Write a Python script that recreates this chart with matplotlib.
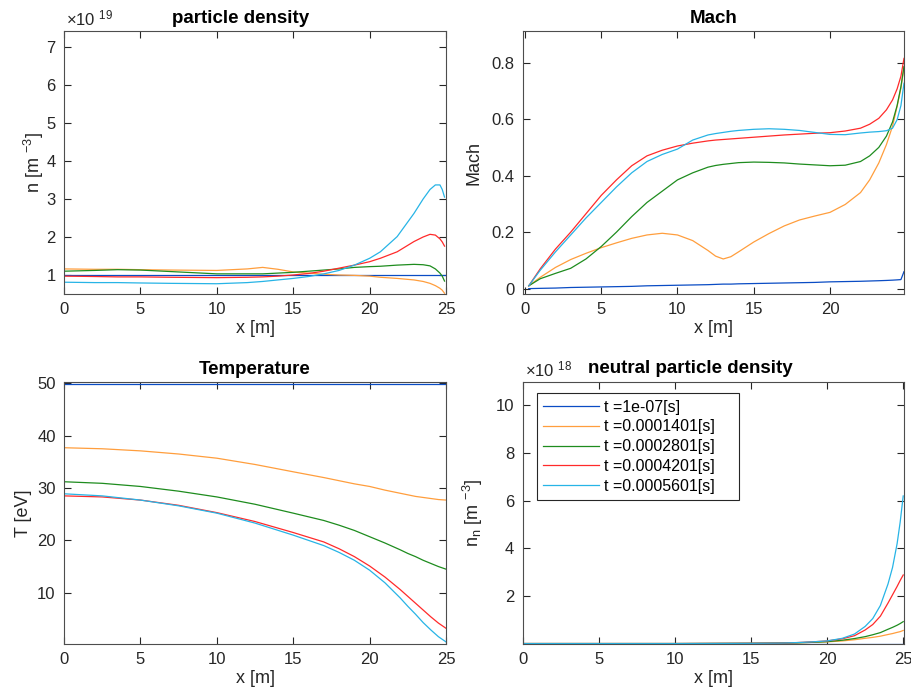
import numpy as np
import matplotlib
matplotlib.use('Agg')
import matplotlib.pyplot as plt

plt.rcParams['font.family'] = ['Liberation Sans', 'DejaVu Sans']
plt.rcParams['mathtext.fontset'] = 'custom'
plt.rcParams['mathtext.rm'] = 'Liberation Sans'
plt.rcParams['mathtext.it'] = 'Liberation Sans:italic'
plt.rcParams['mathtext.bf'] = 'Liberation Sans:bold'

# Etiquetas de tiempo y colores
labels = ['t =1e-07[s]', 't =0.0001401[s]', 't =0.0002801[s]',
          't =0.0004201[s]', 't =0.0005601[s]']
colores = ['#0A4CC4', '#FF9E3D', '#1E8C1E', '#FF2A2A', '#27B4E6']

# ---- densidad de particulas (x1e19) ----
x_n = [0, 2, 3.5, 5, 7, 10, 12, 13, 14, 15, 16, 17, 18, 19, 20, 20.7, 21.8, 22.9, 23.5, 23.95, 24.3, 24.6, 24.75, 24.9]
n_blue = [1.0] * len(x_n)
n_orange = [1.16, 1.15, 1.15, 1.14, 1.13, 1.12, 1.16, 1.2, 1.15, 1.08, 1.05, 1.02, 1.0, 0.99, 0.97, 0.94, 0.91, 0.87, 0.83, 0.78, 0.72, 0.65, 0.6, 0.52]
n_green = [1.1, 1.12, 1.14, 1.13, 1.09, 1.03, 1.03, 1.03, 1.05, 1.07, 1.1, 1.13, 1.16, 1.2, 1.22, 1.23, 1.26, 1.28, 1.27, 1.24, 1.16, 1.05, 0.97, 0.84]
n_red = [0.97, 0.96, 0.95, 0.95, 0.94, 0.93, 0.94, 0.95, 0.97, 1.0, 1.04, 1.1, 1.18, 1.26, 1.35, 1.44, 1.61, 1.88, 2.0, 2.07, 2.05, 1.95, 1.87, 1.76]
n_cyan = [0.81, 0.8, 0.8, 0.79, 0.78, 0.77, 0.8, 0.83, 0.87, 0.91, 0.96, 1.03, 1.12, 1.26, 1.44, 1.61, 2.01, 2.62, 3.0, 3.25, 3.37, 3.37, 3.25, 3.05]

# ---- Mach ----
x_m = [0.25, 1, 2, 3, 4, 5, 6, 7, 8, 9, 10, 11, 12, 12.5, 13, 13.5, 14, 15, 16, 17, 18, 19, 20, 21, 22, 22.6, 23.2, 23.7, 24.1, 24.4, 24.65, 24.85]
m_blue = [0.0, 0.001, 0.002, 0.004, 0.005, 0.006, 0.007, 0.008, 0.01, 0.011, 0.012, 0.013, 0.014, 0.015, 0.016, 0.016, 0.017, 0.018, 0.019, 0.02, 0.021, 0.022, 0.024, 0.025, 0.026, 0.027, 0.028, 0.029, 0.03, 0.031, 0.032, 0.06]
m_orange = [0.01, 0.04, 0.075, 0.103, 0.125, 0.145, 0.162, 0.178, 0.19, 0.196, 0.19, 0.17, 0.135, 0.115, 0.105, 0.113, 0.13, 0.165, 0.195, 0.222, 0.243, 0.257, 0.27, 0.298, 0.34, 0.385, 0.445, 0.51, 0.575, 0.645, 0.71, 0.785]
m_green = [0.01, 0.035, 0.054, 0.072, 0.105, 0.149, 0.2, 0.255, 0.305, 0.345, 0.385, 0.41, 0.43, 0.436, 0.44, 0.443, 0.446, 0.448, 0.447, 0.445, 0.441, 0.438, 0.435, 0.437, 0.45, 0.47, 0.5, 0.54, 0.59, 0.648, 0.715, 0.786]
m_red = [0.01, 0.07, 0.14, 0.2, 0.265, 0.33, 0.385, 0.435, 0.47, 0.49, 0.505, 0.515, 0.523, 0.526, 0.528, 0.53, 0.532, 0.536, 0.54, 0.544, 0.547, 0.55, 0.552, 0.558, 0.568, 0.582, 0.603, 0.633, 0.668, 0.707, 0.752, 0.815]
m_cyan = [0.01, 0.065, 0.13, 0.19, 0.25, 0.305, 0.36, 0.41, 0.45, 0.475, 0.494, 0.526, 0.544, 0.549, 0.553, 0.557, 0.56, 0.564, 0.566, 0.564, 0.56, 0.553, 0.546, 0.545, 0.551, 0.554, 0.556, 0.559, 0.568, 0.598, 0.648, 0.727]

# ---- Temperatura ----
x_t = [0, 2.5, 5, 7.5, 10, 12.5, 15, 17, 18, 19, 20, 21, 22, 22.5, 23, 23.5, 24, 24.5, 25]
T_blue = [49.9] * len(x_t)
T_orange = [37.7, 37.5, 37.1, 36.5, 35.7, 34.5, 33.1, 32.0, 31.4, 30.8, 30.3, 29.6, 29.0, 28.7, 28.4, 28.2, 28.0, 27.8, 27.7]
T_green = [31.2, 30.9, 30.3, 29.4, 28.3, 26.9, 25.2, 23.8, 22.9, 21.9, 20.7, 19.5, 18.2, 17.5, 16.9, 16.2, 15.6, 15.0, 14.5]
T_red = [28.5, 28.3, 27.7, 26.7, 25.3, 23.6, 21.5, 19.7, 18.4, 16.9, 15.1, 13.0, 10.6, 9.3, 8.0, 6.7, 5.4, 4.2, 3.2]
T_cyan = [28.9, 28.5, 27.7, 26.6, 25.2, 23.3, 21.0, 19.0, 17.7, 16.2, 14.3, 11.9, 9.0, 7.4, 5.9, 4.3, 2.9, 1.6, 0.6]

# ---- densidad de neutros (x1e18) ----
x_nn = [0, 5, 10, 15, 17, 18, 19, 20, 21, 21.8, 22.5, 23, 23.5, 24, 24.3, 24.6, 24.8, 25]
nn_blue = [0.0] * len(x_nn)
nn_orange = [0, 0, 0, 0.01, 0.02, 0.03, 0.05, 0.07, 0.11, 0.16, 0.22, 0.26, 0.31, 0.38, 0.42, 0.47, 0.5, 0.55]
nn_green = [0, 0, 0, 0.01, 0.02, 0.03, 0.05, 0.08, 0.14, 0.21, 0.29, 0.37, 0.46, 0.6, 0.68, 0.77, 0.84, 0.92]
nn_red = [0, 0, 0, 0.01, 0.02, 0.04, 0.07, 0.11, 0.2, 0.33, 0.57, 0.8, 1.15, 1.7, 2.05, 2.4, 2.65, 2.88]
nn_cyan = [0, 0, 0, 0.01, 0.02, 0.04, 0.07, 0.11, 0.22, 0.4, 0.72, 1.05, 1.6, 2.5, 3.2, 4.2, 5.1, 6.2]

fig = plt.figure(figsize=(9.12, 6.97), dpi=100)

def estilo(ax):
    for s in ax.spines.values():
        s.set_color('0.3')
        s.set_linewidth(0.8)
    ax.tick_params(direction='in', top=True, right=True, length=5, width=0.8,
                   color='0.15', labelcolor='0.15', labelsize=12, pad=6)

# Subplot 1: densidad
ax1 = fig.add_axes([0.0702, 0.5782, 0.4189, 0.3773])
for y, c in zip([n_blue, n_orange, n_green, n_red, n_cyan], colores):
    ax1.plot(x_n, y, color=c, lw=0.9)
ax1.set_xlim(0, 25)
ax1.set_ylim(0.5, 7.42)
ax1.set_xticks([0, 5, 10, 15, 20, 25])
ax1.set_yticks([1, 2, 3, 4, 5, 6, 7])
ax1.set_xlabel('x [m]', fontsize=13, color='0.15', labelpad=2)
ax1.set_ylabel('n [m $^{-3}$]', fontsize=13, color='0.15', labelpad=0)
ax1.set_title('particle density', fontsize=13.5, fontweight='bold', x=0.461, pad=6)
ax1.text(0.005, 1.01, '×10 $^{19}$', transform=ax1.transAxes, fontsize=12, color='0.15', va='bottom')
estilo(ax1)

# Subplot 2: Mach
ax2 = fig.add_axes([0.5731, 0.5782, 0.4181, 0.3773])
for y, c in zip([m_blue, m_orange, m_green, m_red, m_cyan], colores):
    ax2.plot(x_m, y, color=c, lw=0.9)
ax2.set_xlim(-0.15, 24.85)
ax2.set_ylim(-0.019, 0.912)
ax2.set_xticks([0, 5, 10, 15, 20])
ax2.set_yticks([0, 0.2, 0.4, 0.6, 0.8])
ax2.set_yticklabels(['0', '0.2', '0.4', '0.6', '0.8'])
ax2.set_xlabel('x [m]', fontsize=13, color='0.15', labelpad=2)
ax2.set_ylabel('Mach', fontsize=13, color='0.15', labelpad=6)
ax2.set_title('Mach', fontsize=13.5, fontweight='bold', pad=6)
estilo(ax2)

# Subplot 3: temperatura
ax3 = fig.add_axes([0.0702, 0.0760, 0.4189, 0.3759])
for y, c in zip([T_blue, T_orange, T_green, T_red, T_cyan], colores):
    ax3.plot(x_t, y, color=c, lw=0.9)
ax3.set_xlim(0, 25)
ax3.set_ylim(0.2, 50.25)
ax3.set_xticks([0, 5, 10, 15, 20, 25])
ax3.set_yticks([10, 20, 30, 40, 50])
ax3.set_xlabel('x [m]', fontsize=13, color='0.15', labelpad=2)
ax3.set_ylabel('T [eV]', fontsize=13, color='0.15', labelpad=4)
ax3.set_title('Temperature', fontsize=13.5, fontweight='bold', pad=6)
estilo(ax3)

# Subplot 4: densidad de neutros
ax4 = fig.add_axes([0.5731, 0.0760, 0.4181, 0.3764])
for y, c, l in zip([nn_blue, nn_orange, nn_green, nn_red, nn_cyan], colores, labels):
    ax4.plot(x_nn, y, color=c, lw=0.9, label=l + '    ')
ax4.set_xlim(0, 25.05)
ax4.set_ylim(-0.02, 11.0)
ax4.set_xticks([0, 5, 10, 15, 20, 25])
ax4.set_yticks([2, 4, 6, 8, 10])
ax4.set_xlabel('x [m]', fontsize=13, color='0.15', labelpad=2)
ax4.set_ylabel(r'n$_\mathrm{n}$ [m $^{-3}$]', fontsize=13, color='0.15', labelpad=8)
ax4.set_title('neutral particle density', fontsize=13.5, fontweight='bold', x=0.439, pad=6)
ax4.text(0.005, 1.01, '×10 $^{18}$', transform=ax4.transAxes, fontsize=12, color='0.15', va='bottom')
leg = ax4.legend(loc='upper left', bbox_to_anchor=(0.0367, 0.956), borderaxespad=0,
                 fontsize=11.5, handlelength=3.5, handletextpad=0.3, labelspacing=0.3,
                 fancybox=False, framealpha=1, edgecolor='0.15', borderpad=0.4)
leg.get_frame().set_linewidth(0.8)
estilo(ax4)

plt.savefig('out.png', dpi=100)
